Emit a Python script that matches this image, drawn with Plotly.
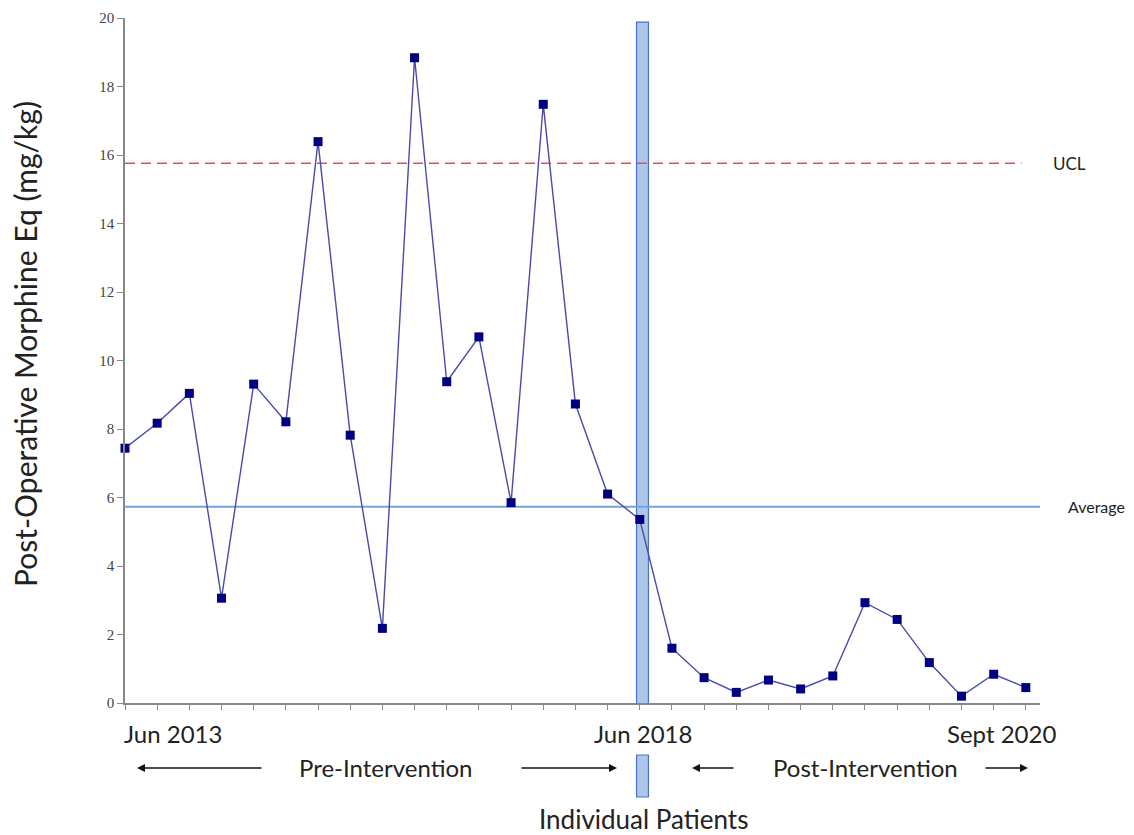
import plotly.graph_objects as go

patient_index = list(range(29))
morphine_eq = [7.44, 8.17, 9.04, 3.06, 9.31, 8.21, 16.39, 7.82, 2.18, 18.84,
               9.38, 10.69, 5.85, 17.48, 8.73, 6.10, 5.36, 1.60, 0.74, 0.31,
               0.67, 0.41, 0.79, 2.93, 2.44, 1.18, 0.20, 0.84, 0.45]
average_value = 5.73
ucl_value = 15.76
y_ticks = [0, 2, 4, 6, 8, 10, 12, 14, 16, 18, 20]
date_labels = ["Jun 2013", "Jun 2018", "Sept 2020"]
date_positions = [0, 16, 28]
intervention_index = 16.09

X_END = 28.44
FONT = "Lato"

# page is offset by the 8px body margin; compensate in figure size/margins
W, H = 1126, 827
L, R, T, B = 117, 94, 10, 132
PLOT_LEFT_PAGE, PLOT_W = 125, 915
PLOT_BOTTOM_PAGE, PLOT_H = 703, 685


def px(page_x):
    return (page_x - PLOT_LEFT_PAGE) / PLOT_W


def py(page_y):
    return (PLOT_BOTTOM_PAGE - page_y) / PLOT_H


fig = go.Figure()

fig.add_trace(go.Scatter(
    x=patient_index, y=morphine_eq, mode="lines+markers",
    line=dict(color="#4a4aa8", width=1.4),
    marker=dict(symbol="square", size=9, color="#000080"),
    cliponaxis=False, showlegend=False, hoverinfo="skip"))

shapes = []
shapes.append(dict(type="rect", xref="x", yref="y", x0=intervention_index - 0.19,
                   x1=intervention_index + 0.18, y0=-0.2, y1=19.88,
                   fillcolor="#aec6ea", line=dict(color="#4a72c4", width=1.2), layer="below"))
shapes.append(dict(type="rect", xref="x", yref="paper", x0=intervention_index - 0.19,
                   x1=intervention_index + 0.18, y0=py(797), y1=py(755),
                   fillcolor="#aec6ea", line=dict(color="#4a72c4", width=1.2), layer="below"))
shapes.append(dict(type="line", xref="x", yref="y", x0=0, x1=X_END,
                   y0=average_value, y1=average_value,
                   line=dict(color="#74a3da", width=2), layer="below"))
shapes.append(dict(type="line", xref="x", yref="y", x0=0, x1=27.87,
                   y0=ucl_value, y1=ucl_value,
                   line=dict(color="#f04a58", width=1.5, dash="10px,6px"), layer="below"))
fig.update_layout(shapes=shapes)

ann = []
ann.append(dict(text="UCL", x=px(1069), xref="paper", y=ucl_value, yref="y", showarrow=False,
                xanchor="center", font=dict(family=FONT, size=17, color="#222")))
ann.append(dict(text="Average", x=px(1096), xref="paper", y=average_value, yref="y", showarrow=False,
                xanchor="center", font=dict(family=FONT, size=16, color="#222")))

ann.append(dict(text=date_labels[0], x=date_positions[0], xref="x", y=py(733), yref="paper",
                xanchor="left", xshift=-3, yanchor="middle", showarrow=False,
                font=dict(family=FONT, size=24, color="#222")))
ann.append(dict(text=date_labels[1], x=date_positions[1], xref="x", y=py(733), yref="paper",
                xanchor="center", xshift=3, yanchor="middle", showarrow=False,
                font=dict(family=FONT, size=24, color="#222")))
ann.append(dict(text=date_labels[2], x=date_positions[2], xref="x", y=py(733), yref="paper",
                xanchor="right", xshift=32, yanchor="middle", showarrow=False,
                font=dict(family=FONT, size=24, color="#222")))

ann.append(dict(text="Pre-Intervention", x=px(385), xref="paper", y=py(767), yref="paper",
                xanchor="center", yanchor="middle", showarrow=False,
                font=dict(family=FONT, size=24, color="#222")))
ann.append(dict(text="Post-Intervention", x=px(865), xref="paper", y=py(767), yref="paper",
                xanchor="center", yanchor="middle", showarrow=False,
                font=dict(family=FONT, size=24, color="#222")))

arrows = [(263, 137), (520, 617), (735, 692), (984, 1028)]
for tail, head in arrows:
    ann.append(dict(x=px(head), xref="paper", y=py(768), yref="paper",
                    ax=tail - head, ay=0, text="", showarrow=True,
                    arrowhead=2, arrowsize=1, arrowwidth=1.6, arrowcolor="#111"))

ann.append(dict(text="Individual Patients", x=px(643), xref="paper", y=py(819), yref="paper",
                xanchor="center", yanchor="middle", showarrow=False,
                font=dict(family=FONT, size=26, color="#222")))
ann.append(dict(text="Post-Operative Morphine Eq (mg/kg)", x=px(25), xref="paper", y=py(344),
                yref="paper", xanchor="center", yanchor="middle", textangle=-90, showarrow=False,
                font=dict(family=FONT, size=30, color="#222")))

fig.update_layout(annotations=ann)

fig.update_xaxes(range=[0, X_END], showgrid=False, zeroline=False, showline=True,
                 linecolor="#888", linewidth=1.5, ticks="outside", ticklen=5,
                 tickcolor="#888", tickvals=patient_index, showticklabels=False)
fig.update_yaxes(range=[0, 20], showgrid=False, zeroline=False, showline=True,
                 linecolor="#888", linewidth=1.5, ticks="outside", ticklen=6,
                 tickcolor="#888", tickvals=y_ticks,
                 tickfont=dict(family="Liberation Serif", size=15, color="#444"))

fig.update_layout(width=W, height=H, margin=dict(l=L, r=R, t=T, b=B, autoexpand=False),
                  plot_bgcolor="white", paper_bgcolor="white", showlegend=False)

fig.write_html("out.html")
